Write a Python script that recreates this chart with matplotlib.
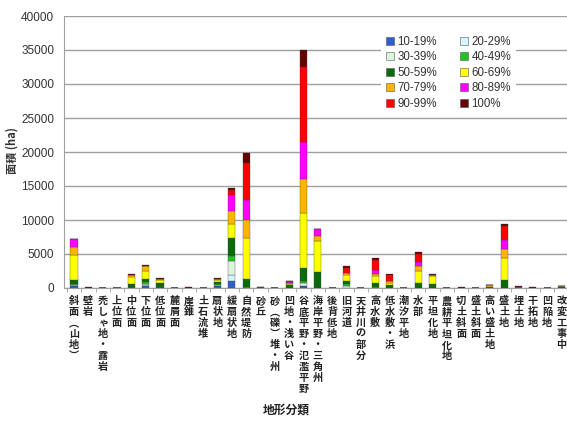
import matplotlib.pyplot as plt
import numpy as np
from matplotlib.patches import Patch

plt.rcParams['font.family'] = ['Liberation Sans', 'Noto Sans CJK JP']

# categories (地形分類)
categories = ["斜面（山地）", "壁岩", "禿しゃ地・露岩", "上位面", "中位面", "下位面", "低位面",
              "麓屑面", "崖錐", "土石流堆", "扇状地", "緩扇状地", "自然堤防", "砂丘",
              "砂（礫）堆・州", "凹地・浅い谷", "谷底平野・氾濫平野", "海岸平野・三角州",
              "後背低地", "旧河道", "天井川の部分", "高水敷", "低水敷・浜", "潮汐平地", "水部",
              "平坦化地", "農耕平坦化地", "切土斜面", "盛土斜面", "高い盛土地", "盛土地",
              "埋土地", "干拓地", "凹陥地", "改変工事中"]

series_names = ["10-19%", "20-29%", "30-39%", "40-49%", "50-59%",
                "60-69%", "70-79%", "80-89%", "90-99%", "100%"]

# area (ha) per class
s10 = [350, 0, 0, 0, 150, 350, 100, 20, 0, 0, 300, 980, 50, 0, 40, 0, 340, 0, 0, 0,
       0, 0, 0, 0, 0, 0, 0, 0, 0, 0, 0, 50, 0, 0, 0]
s20 = [100, 0, 0, 0, 0, 150, 0, 0, 0, 0, 100, 980, 0, 0, 0, 0, 0, 0, 0, 0,
       0, 0, 0, 0, 0, 0, 0, 0, 0, 0, 0, 0, 0, 0, 0]
s30 = [50, 0, 0, 0, 0, 100, 0, 0, 0, 0, 100, 2060, 0, 0, 0, 0, 340, 0, 0, 245,
       0, 0, 0, 0, 0, 0, 0, 0, 0, 0, 0, 0, 0, 0, 0]
s40 = [100, 0, 0, 0, 0, 250, 0, 0, 0, 0, 150, 700, 100, 0, 0, 0, 390, 0, 0, 390,
       0, 200, 0, 0, 0, 0, 0, 0, 0, 0, 0, 0, 0, 0, 0]
s50 = [650, 0, 0, 0, 390, 500, 650, 0, 30, 0, 200, 2600, 1200, 0, 0, 400, 1860, 2300, 0, 390,
       0, 600, 490, 0, 735, 640, 0, 50, 0, 100, 1225, 0, 50, 0, 100]
s60 = [3600, 0, 0, 0, 1080, 1130, 400, 0, 0, 0, 300, 2060, 6030, 0, 0, 150, 8040, 4655, 0, 830,
       0, 930, 245, 0, 1760, 1080, 0, 0, 0, 100, 3235, 0, 0, 0, 100]
s70 = [1200, 0, 0, 0, 240, 750, 150, 0, 0, 0, 200, 1960, 2650, 0, 0, 200, 5050, 735, 0, 340,
       0, 390, 245, 0, 735, 150, 0, 0, 0, 200, 1320, 0, 0, 0, 50]
s80 = [1200, 0, 0, 0, 0, 0, 0, 0, 0, 0, 0, 2350, 2840, 0, 0, 150, 5490, 980, 0, 0,
       0, 590, 0, 0, 590, 0, 0, 0, 0, 0, 1225, 100, 0, 0, 0]
s90 = [0, 50, 0, 0, 0, 0, 0, 0, 30, 0, 0, 690, 5490, 80, 0, 150, 11030, 0, 0, 780,
       0, 1470, 980, 0, 1225, 0, 0, 0, 0, 0, 2060, 0, 0, 0, 0]
s100 = [0, 30, 0, 0, 240, 100, 100, 0, 60, 0, 150, 390, 1470, 50, 0, 0, 2450, 0, 0, 245,
        0, 290, 150, 0, 245, 150, 0, 50, 0, 100, 390, 200, 80, 0, 0]

series = [s10, s20, s30, s40, s50, s60, s70, s80, s90, s100]
colors = ["#2f5fd0", "#d4f6ff", "#dcf5dc", "#22c322", "#0b6b0b",
          "#ffff00", "#ffb400", "#ff00ff", "#ff0000", "#660000"]

fig = plt.figure(figsize=(5.67, 4.23), dpi=100)
ax = fig.add_axes([64 / 567, 135 / 423, 503 / 567, 272 / 423])

x = np.arange(len(categories))
bottom = np.zeros(len(categories))
for vals, col in zip(series, colors):
    ax.bar(x, vals, 0.5, bottom=bottom, color=col, edgecolor="#444444", linewidth=0.25, zorder=3)
    bottom += np.array(vals)

ax.set_xlim(-0.7, 34.38)
ax.set_ylim(0, 40000)
ax.set_yticks(range(0, 40001, 5000))
ax.yaxis.grid(True, color="#a0a0a0", linewidth=1.0, zorder=0)
ax.tick_params(axis="y", length=0, pad=7, labelsize=8.5, labelcolor="#333333")
for s in ["top", "right"]:
    ax.spines[s].set_visible(False)
ax.spines["left"].set_color("#a0a0a0")
ax.spines["bottom"].set_color("#a0a0a0")

# tick marks between categories
ax.set_xticks([])
ax.set_xticks(np.arange(-0.5, 34.5, 1), minor=True)
ax.tick_params(axis="x", which="minor", length=3, color="#a0a0a0")
ax.set_xticklabels([], minor=True)

# vertical (stacked character) category labels
for i, name in enumerate(categories):
    name = name.replace("（", "︵").replace("）", "︶")
    ax.text(i, -0.03, "\n".join(name), transform=ax.get_xaxis_transform(),
            ha="center", va="top", fontsize=7.3, linespacing=1.12, fontweight="bold",
            family="Noto Sans CJK JP", color="#222222")

fig.text(286 / 567, 1 - 410 / 423, "地形分類", ha="center", va="center",
         fontsize=8.5, fontweight="bold", family="Noto Sans CJK JP", color="#222222")
fig.text(12 / 567, 1 - 150 / 423, "面積 (ha)", ha="center", va="center", rotation=90,
         fontsize=8, fontweight="bold", family="Noto Sans CJK JP", color="#333333")

# legend, row-major order in two columns
handles = [Patch(facecolor=c, edgecolor="#555555", linewidth=0.4) for c in colors]
order = [0, 2, 4, 6, 8, 1, 3, 5, 7, 9]
leg = ax.legend([handles[k] for k in order], [series_names[k] for k in order],
                ncol=2, loc="upper right", bbox_to_anchor=(0.91, 0.965),
                fontsize=8.3, frameon=True, facecolor="white", edgecolor="none",
                framealpha=1, handlelength=0.7, handleheight=0.7, handletextpad=0.3,
                columnspacing=2.0, labelspacing=0.3, borderpad=0.4, fancybox=False)
for t in leg.get_texts():
    t.set_color("#333333")
leg.set_zorder(5)

fig.savefig("out.png", dpi=100)
